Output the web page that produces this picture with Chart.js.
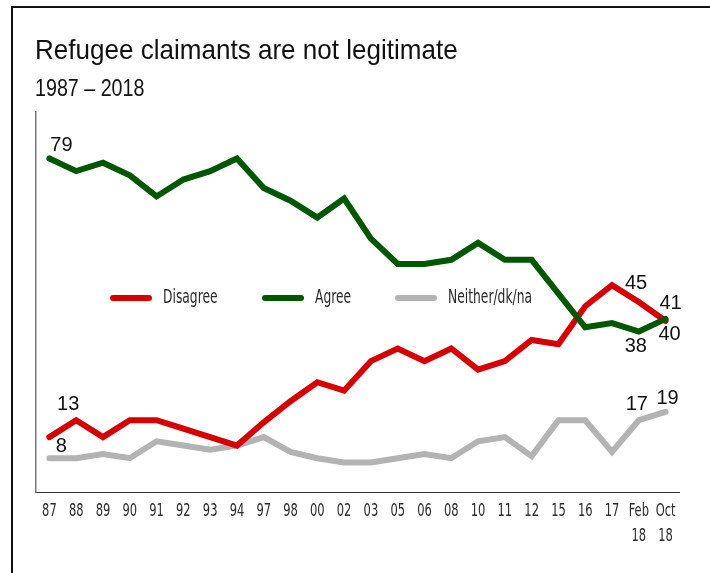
<!DOCTYPE html>
<html>
<head>
<meta charset="utf-8">
<script src="https://cdn.jsdelivr.net/npm/chart.js@4"></script>
<style>
body{margin:0;width:710px;height:573px;overflow:hidden;background:#fff;position:relative;font-family:"Liberation Sans",Arial,sans-serif}
#frame{position:absolute;left:11px;top:6px;width:720px;height:600px;border-top:2px solid #111;border-left:2px solid #111}
#title{position:absolute;left:35px;top:36px;font-size:28px;line-height:28px;white-space:nowrap;transform:scaleX(0.93);transform-origin:0 0;color:#111}
#sub{position:absolute;left:35px;top:76px;font-size:24px;line-height:24px;white-space:nowrap;transform:scaleX(0.82);transform-origin:0 0;color:#111}
#chart{position:absolute;left:0;top:0}
</style>
</head>
<body>
<div id="frame"></div>
<canvas id="chart" width="710" height="573"></canvas>
<div id="title">Refugee claimants are not legitimate</div>
<div id="sub">1987 – 2018</div>
<script>
// survey waves
const years=['87','88','89','90','91','92','93','94','97','98','00','02','03','05','06','08','10','11','12','15','16','17',['Feb','18'],['Oct','18']];
// % values
const disagree=[13,17,13,17,17,15,13,11,16.5,21.5,26,24,31,34,31,34,29,31,36,35,44,49,45,40.5];
const agree=[79,76,78,75,70,74,76,79,72,69,65,69.5,60,54,54,55,59,55,55,47,39,40,38,41];
const neither=[8,8,9,8,12,11,10,11,13,9.5,8,7,7,8,9,8,12,13,8.5,17,17,9.5,17,19];
const seriesNames=['Disagree','Agree','Neither/dk/na'];
const colors=['#d50000','#005700','#b3b3b3'];

const narrow='"DejaVu Sans Condensed","DejaVu Sans",sans-serif';

// value labels: dataset, point index, text, offset
const valueLabels=[
  [1,0,'79',12,-13],
  [2,0,'8',12,-12],
  [0,1,'13',-8,-16],
  [0,21,'45',24,-2],
  [1,22,'38',-3,15],
  [2,22,'17',-2,-16],
  [1,23,'41',5,-15],
  [0,23,'40',4,13],
  [2,23,'19',2,-13]
];

// squeezed text, the original uses a condensed face
function narrowText(ctx,s,x,y,sx){
  ctx.save();
  ctx.translate(x,y);
  ctx.scale(sx,1);
  ctx.fillText(s,0,0);
  ctx.restore();
}

const labelPlugin={
  id:'valueLabels',
  afterDatasetsDraw(chart){
    const ctx=chart.ctx;
    ctx.save();
    ctx.font='20px "Liberation Sans",Arial,sans-serif';
    ctx.fillStyle='#111';
    ctx.textAlign='center';
    ctx.textBaseline='middle';
    valueLabels.forEach(l=>{
      const pt=chart.getDatasetMeta(l[0]).data[l[1]];
      ctx.fillText(l[2],pt.x+l[3],pt.y+l[4]);
    });
    ctx.restore();
  }
};

const legendPlugin={
  id:'midLegend',
  afterDatasetsDraw(chart){
    const ctx=chart.ctx;
    const xs=[110,262,395];
    const y=298;
    ctx.save();
    ctx.font='19px '+narrow;
    ctx.textBaseline='middle';
    ctx.textAlign='left';
    seriesNames.forEach((n,i)=>{
      ctx.strokeStyle=colors[i];
      ctx.lineWidth=6;
      ctx.lineCap='round';
      ctx.beginPath();
      ctx.moveTo(xs[i]+3,y);
      ctx.lineTo(xs[i]+39,y);
      ctx.stroke();
      ctx.fillStyle='#2a2a2a';
      narrowText(ctx,n,xs[i]+53,y,0.72);
    });
    ctx.restore();
  }
};

const tickPlugin={
  id:'narrowTicks',
  afterDraw(chart){
    const ctx=chart.ctx;
    const sc=chart.scales.x;
    ctx.save();
    ctx.font='17px '+narrow;
    ctx.fillStyle='#2a2a2a';
    ctx.textAlign='center';
    ctx.textBaseline='middle';
    years.forEach((t,i)=>{
      const x=sc.getPixelForTick(i);
      [].concat(t).forEach((s,j)=>narrowText(ctx,s,x,sc.top+20+25*j,0.75));
    });
    ctx.restore();
  }
};

function ds(label,data,i,order){
  return {label:label,data:data,borderColor:colors[i],backgroundColor:colors[i],borderWidth:6,
    pointRadius:0,tension:0,borderJoinStyle:'miter',borderCapStyle:'round',fill:false,order:order};
}

new Chart(document.getElementById('chart'),{
  type:'line',
  data:{
    labels:years,
    datasets:[ds(seriesNames[0],disagree,0,1),ds(seriesNames[1],agree,1,0),ds(seriesNames[2],neither,2,2)]
  },
  options:{
    responsive:false,
    devicePixelRatio:1,
    animation:false,
    layout:{padding:{left:36,top:112,right:31,bottom:0}},
    plugins:{legend:{display:false},tooltip:{enabled:false}},
    scales:{
      x:{
        offset:true,
        grid:{display:false,drawTicks:false},
        border:{display:true,color:'#333',width:1},
        ticks:{color:'rgba(0,0,0,0)',padding:7,maxRotation:0,autoSkip:false,font:{family:narrow,size:16,lineHeight:'25px'}},
        afterFit(s){s.height=81;}
      },
      y:{
        min:0,max:90,
        grid:{display:false,drawTicks:false},
        border:{display:true,color:'#777',width:1.5},
        ticks:{display:false},
        afterFit(s){s.width=0;}
      }
    }
  },
  plugins:[labelPlugin,legendPlugin,tickPlugin]
});
</script>
</body>
</html>
